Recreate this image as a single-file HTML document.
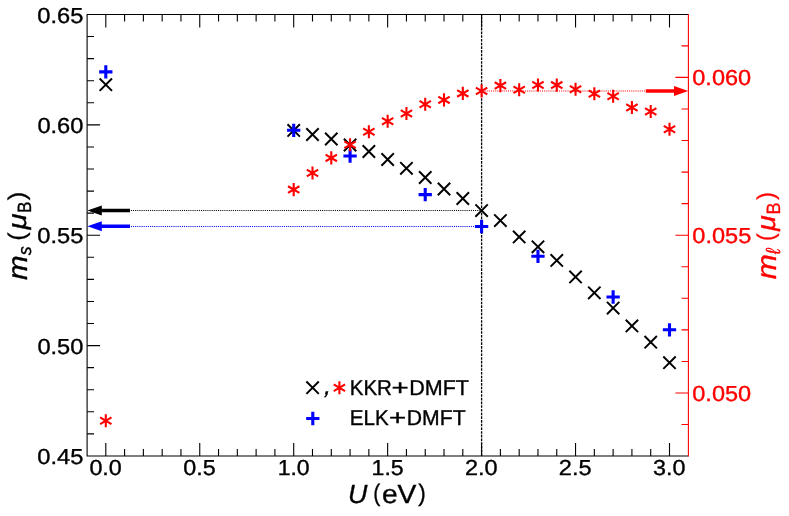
<!DOCTYPE html>
<html><head><meta charset="utf-8"><title>chart</title>
<style>html,body{margin:0;padding:0;background:#fff;overflow:hidden}svg{display:block;position:absolute;left:0;top:0;will-change:transform}</style>
</head><body>
<svg width="789" height="516" viewBox="0 0 789 516" font-family="'Liberation Sans', sans-serif" style="display:block;font-kerning:none" text-rendering="geometricPrecision">
<rect width="789" height="516" fill="#fff"/>
<defs>
<g id="mx"><path d="M-6.2,-6.2L6.2,6.2M-6.2,6.2L6.2,-6.2" stroke="#000" stroke-width="1.95" fill="none"/></g>
<g id="mp"><path d="M-6.65,0H6.65M0,-6.65V6.65" stroke="#00f" stroke-width="3.1" fill="none"/></g>
<g id="ms"><path d="M0,-6.55V6.55M-5.7,-3.35L5.7,3.35M-5.7,3.35L5.7,-3.35" stroke="#f00" stroke-width="2.1" fill="none"/></g>
</defs>
<path d="M130.9,210.5H481.60" stroke="#000" stroke-width="1.04" stroke-dasharray="1.04 1.085" fill="none"/>
<path d="M130.9,226.5H481.60" stroke="#00f" stroke-width="1.04" stroke-dasharray="1.04 1.085" fill="none"/>
<path d="M481.60,455.95V14.5" stroke="#000" stroke-width="1.3" stroke-dasharray="2.6 1.1" fill="none"/>
<use href="#mx" x="105.80" y="84.7"/>
<use href="#mx" x="293.70" y="130.4"/>
<use href="#mx" x="312.49" y="134.5"/>
<use href="#mx" x="331.28" y="139.0"/>
<use href="#mx" x="350.07" y="145.0"/>
<use href="#mx" x="368.86" y="151.5"/>
<use href="#mx" x="387.65" y="159.5"/>
<use href="#mx" x="406.44" y="168.3"/>
<use href="#mx" x="425.23" y="177.5"/>
<use href="#mx" x="444.02" y="189.0"/>
<use href="#mx" x="462.81" y="198.5"/>
<use href="#mx" x="481.60" y="210.6"/>
<use href="#mx" x="500.39" y="220.6"/>
<use href="#mx" x="519.18" y="236.9"/>
<use href="#mx" x="537.97" y="246.8"/>
<use href="#mx" x="556.76" y="260.4"/>
<use href="#mx" x="575.55" y="276.9"/>
<use href="#mx" x="594.34" y="292.8"/>
<use href="#mx" x="613.13" y="308.1"/>
<use href="#mx" x="631.92" y="325.9"/>
<use href="#mx" x="650.71" y="342.2"/>
<use href="#mx" x="669.50" y="362.7"/>
<use href="#mp" x="105.80" y="71.9"/>
<use href="#mp" x="293.70" y="130.3"/>
<use href="#mp" x="350.07" y="156.0"/>
<use href="#mp" x="425.23" y="194.6"/>
<use href="#mp" x="481.60" y="226.5"/>
<use href="#mp" x="537.97" y="256.3"/>
<use href="#mp" x="613.13" y="297.0"/>
<use href="#mp" x="669.50" y="329.8"/>
<path d="M105.80,455.95v-13.0M105.80,14.5v13.0M124.59,455.95v-6.9M124.59,14.5v6.9M143.38,455.95v-6.9M143.38,14.5v6.9M162.17,455.95v-6.9M162.17,14.5v6.9M180.96,455.95v-6.9M180.96,14.5v6.9M199.75,455.95v-13.0M199.75,14.5v13.0M218.54,455.95v-6.9M218.54,14.5v6.9M237.33,455.95v-6.9M237.33,14.5v6.9M256.12,455.95v-6.9M256.12,14.5v6.9M274.91,455.95v-6.9M274.91,14.5v6.9M293.70,455.95v-13.0M293.70,14.5v13.0M312.49,455.95v-6.9M312.49,14.5v6.9M331.28,455.95v-6.9M331.28,14.5v6.9M350.07,455.95v-6.9M350.07,14.5v6.9M368.86,455.95v-6.9M368.86,14.5v6.9M387.65,455.95v-13.0M387.65,14.5v13.0M406.44,455.95v-6.9M406.44,14.5v6.9M425.23,455.95v-6.9M425.23,14.5v6.9M444.02,455.95v-6.9M444.02,14.5v6.9M462.81,455.95v-6.9M462.81,14.5v6.9M481.60,455.95v-13.0M481.60,14.5v13.0M500.39,455.95v-6.9M500.39,14.5v6.9M519.18,455.95v-6.9M519.18,14.5v6.9M537.97,455.95v-6.9M537.97,14.5v6.9M556.76,455.95v-6.9M556.76,14.5v6.9M575.55,455.95v-13.0M575.55,14.5v13.0M594.34,455.95v-6.9M594.34,14.5v6.9M613.13,455.95v-6.9M613.13,14.5v6.9M631.92,455.95v-6.9M631.92,14.5v6.9M650.71,455.95v-6.9M650.71,14.5v6.9M669.50,455.95v-13.0M669.50,14.5v13.0M87.1,433.88h6.9M87.1,411.80h6.9M87.1,389.73h6.9M87.1,367.66h6.9M87.1,345.59h13.0M87.1,323.51h6.9M87.1,301.44h6.9M87.1,279.37h6.9M87.1,257.30h6.9M87.1,235.22h13.0M87.1,213.15h6.9M87.1,191.08h6.9M87.1,169.01h6.9M87.1,146.93h6.9M87.1,124.86h13.0M87.1,102.79h6.9M87.1,80.72h6.9M87.1,58.65h6.9M87.1,36.57h6.9" stroke="#000" stroke-width="1.1" fill="none"/>
<path d="M87.1,455.95V14.5M86.55,14.5H688.4M86.55,455.95H688.4" stroke="#000" stroke-width="1.1" fill="none"/>
<path d="M87.39999999999999,210.5L101.8,205.5V208.8H130V212.2H101.8V215.5Z" fill="#000"/>
<path d="M87.39999999999999,226.3L101.8,221.3V224.60000000000002H130V228.0H101.8V231.3Z" fill="#00f"/>
<path d="M645,91.0H481.60" stroke="#f00" stroke-width="1.04" stroke-dasharray="1.04 1.085" fill="none"/>
<use href="#ms" x="105.80" y="420.7"/>
<use href="#ms" x="293.70" y="189.6"/>
<use href="#ms" x="312.49" y="173.0"/>
<use href="#ms" x="331.28" y="157.9"/>
<use href="#ms" x="350.07" y="144.7"/>
<use href="#ms" x="368.86" y="131.8"/>
<use href="#ms" x="387.65" y="121.3"/>
<use href="#ms" x="406.44" y="113.5"/>
<use href="#ms" x="425.23" y="104.3"/>
<use href="#ms" x="444.02" y="99.9"/>
<use href="#ms" x="462.81" y="93.4"/>
<use href="#ms" x="481.60" y="91.0"/>
<use href="#ms" x="500.39" y="85.6"/>
<use href="#ms" x="519.18" y="89.7"/>
<use href="#ms" x="537.97" y="85.0"/>
<use href="#ms" x="556.76" y="85.1"/>
<use href="#ms" x="575.55" y="89.2"/>
<use href="#ms" x="594.34" y="93.75"/>
<use href="#ms" x="613.13" y="96.2"/>
<use href="#ms" x="631.92" y="107.5"/>
<use href="#ms" x="650.71" y="111.5"/>
<use href="#ms" x="669.50" y="129.3"/>
<path d="M688.4,45.84h-6.9M688.4,77.40h-13.0M688.4,108.96h-6.9M688.4,140.52h-6.9M688.4,172.08h-6.9M688.4,203.64h-6.9M688.4,235.20h-13.0M688.4,266.76h-6.9M688.4,298.32h-6.9M688.4,329.88h-6.9M688.4,361.44h-6.9M688.4,393.00h-13.0M688.4,424.56h-6.9" stroke="#f00" stroke-width="1.1" fill="none"/>
<path d="M688.4,456.5V13.95" stroke="#f00" stroke-width="1.1" fill="none"/>
<path d="M688.3,91.0L674.0,86.0V89.3H645.8V92.7H674.0V96.0Z" fill="#f00"/>
<text transform="translate(37.37,464.00) scale(1.0920,1.0000)" font-size="21.7" fill="#000" stroke="#000" stroke-width="0.36">0.45</text>
<text transform="translate(37.38,353.60) scale(1.0903,1.0000)" font-size="21.7" fill="#000" stroke="#000" stroke-width="0.36">0.50</text>
<text transform="translate(37.37,243.20) scale(1.0920,1.0000)" font-size="21.7" fill="#000" stroke="#000" stroke-width="0.36">0.55</text>
<text transform="translate(37.38,133.10) scale(1.0903,1.0000)" font-size="21.7" fill="#000" stroke="#000" stroke-width="0.36">0.60</text>
<text transform="translate(37.37,23.00) scale(1.0920,1.0000)" font-size="21.7" fill="#000" stroke="#000" stroke-width="0.36">0.65</text>
<text transform="translate(89.39,475.20) scale(1.0748,1.0000)" font-size="21.7" fill="#000" stroke="#000" stroke-width="0.36">0.0</text>
<text transform="translate(183.34,475.20) scale(1.0772,1.0000)" font-size="21.7" fill="#000" stroke="#000" stroke-width="0.36">0.5</text>
<text transform="translate(277.64,475.20) scale(1.0627,1.0000)" font-size="21.7" fill="#000" stroke="#000" stroke-width="0.36">1.0</text>
<text transform="translate(371.59,475.20) scale(1.0651,1.0000)" font-size="21.7" fill="#000" stroke="#000" stroke-width="0.36">1.5</text>
<text transform="translate(464.92,475.20) scale(1.0841,1.0000)" font-size="21.7" fill="#000" stroke="#000" stroke-width="0.36">2.0</text>
<text transform="translate(558.86,475.20) scale(1.0865,1.0000)" font-size="21.7" fill="#000" stroke="#000" stroke-width="0.36">2.5</text>
<text transform="translate(653.11,475.20) scale(1.0740,1.0000)" font-size="21.7" fill="#000" stroke="#000" stroke-width="0.36">3.0</text>
<text transform="translate(692.28,401.00) scale(1.0854,1.0000)" font-size="21.7" fill="#f00" stroke="#f00" stroke-width="0.36">0.050</text>
<text transform="translate(692.28,242.55) scale(1.0867,1.0000)" font-size="21.7" fill="#f00" stroke="#f00" stroke-width="0.36">0.055</text>
<text transform="translate(692.28,84.90) scale(1.0854,1.0000)" font-size="21.7" fill="#f00" stroke="#f00" stroke-width="0.36">0.060</text>
<use href="#mx" x="312.6" y="387.7"/>
<text transform="translate(322.99,394.10) skewX(-16) scale(1.0799,1.1000)" font-size="21.7" fill="#000" stroke="#000" stroke-width="0.36">,</text>
<use href="#ms" x="339.4" y="387.7"/>
<use href="#mp" x="312.8" y="418.5"/>
<text transform="translate(349.71,394.50) scale(0.9510,1.0000)" font-size="21.6" fill="#000" stroke="#000" stroke-width="0.36">KKR</text>
<text transform="translate(391.46,394.50) scale(1.3627,1.0000)" font-size="21.6" fill="#000" stroke="#000" stroke-width="0.36">+</text>
<text transform="translate(409.23,394.50) scale(0.9963,1.0000)" font-size="21.6" fill="#000" stroke="#000" stroke-width="0.36">DMFT</text>
<text transform="translate(349.71,425.20) scale(0.9533,1.0000)" font-size="21.6" fill="#000" stroke="#000" stroke-width="0.36">ELK</text>
<text transform="translate(388.96,425.20) scale(1.3627,1.0000)" font-size="21.6" fill="#000" stroke="#000" stroke-width="0.36">+</text>
<text transform="translate(406.76,425.20) scale(0.9807,1.0000)" font-size="21.6" fill="#000" stroke="#000" stroke-width="0.36">DMFT</text>
<text transform="translate(348.00,502.70) scale(1.0239,1.0000)" font-size="26.2" font-style="italic" fill="#000" stroke="#000" stroke-width="0.36">U</text>
<text transform="translate(373.29,501.10) scale(0.8062,0.9200)" font-size="26.2" fill="#000" stroke="#000" stroke-width="0.36">(</text>
<text transform="translate(381.90,503.00) scale(1.0773,1.0000)" font-size="26.2" fill="#000" stroke="#000" stroke-width="0.36">eV</text>
<text transform="translate(418.17,501.10) scale(0.8637,0.9200)" font-size="26.2" fill="#000" stroke="#000" stroke-width="0.36">)</text>
<g transform="translate(26.2,280.0) rotate(-90)"><text transform="translate(0.01,1.00) scale(1.0720,1.0000)" font-size="27.5" font-style="italic" fill="#000" stroke="#000" stroke-width="0.36">m</text><text transform="translate(24.81,4.70) scale(0.9579,1.0000)" font-size="18.6" font-style="italic" fill="#000" stroke="#000" stroke-width="0.36">s</text><text transform="translate(39.36,-1.17) scale(0.9501,0.9200)" font-size="26.2" fill="#000" stroke="#000" stroke-width="0.36">(</text><text transform="translate(50.51,0.00) scale(1.1118,1.0000)" font-size="26.2" font-style="italic" fill="#000" stroke="#000" stroke-width="0.36">μ</text><text transform="translate(66.98,4.50) scale(0.9003,1.0000)" font-size="19.2" fill="#000" stroke="#000" stroke-width="0.36">B</text><text transform="translate(79.75,-1.17) scale(0.9789,0.9200)" font-size="26.2" fill="#000" stroke="#000" stroke-width="0.36">)</text></g>
<g transform="translate(775.4,279.6) rotate(-90)"><text transform="translate(0.30,0.50) scale(1.0916,1.0000)" font-size="27.6" font-style="italic" fill="#f00" stroke="#f00" stroke-width="0.36">m</text><text transform="translate(25.31,4.60) scale(0.8767,1.0000)" font-size="20.3" font-style="italic" fill="#f00" stroke="#f00" stroke-width="0.36">ℓ</text><text transform="translate(38.70,-1.70) scale(0.8637,0.9200)" font-size="26.2" fill="#f00" stroke="#f00" stroke-width="0.36">(</text><text transform="translate(48.70,0.00) scale(1.0910,1.0000)" font-size="26.2" font-style="italic" fill="#f00" stroke="#f00" stroke-width="0.36">μ</text><text transform="translate(65.22,4.90) scale(0.9394,1.0000)" font-size="19.2" fill="#f00" stroke="#f00" stroke-width="0.36">B</text><text transform="translate(79.87,-1.70) scale(0.8637,0.9200)" font-size="26.2" fill="#f00" stroke="#f00" stroke-width="0.36">)</text></g>
</svg>
</body></html>
